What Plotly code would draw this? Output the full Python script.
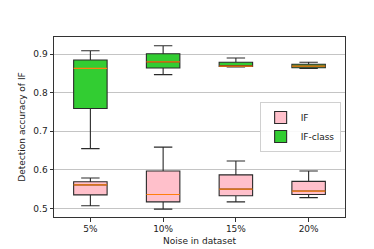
import plotly.graph_objects as go

categories = ["5%", "10%", "15%", "20%"]
positions = [1, 2, 3, 4]

# IF series (box statistics)
if_low = [0.507, 0.498, 0.517, 0.528]
if_q1 = [0.535, 0.517, 0.533, 0.536]
if_med = [0.561, 0.536, 0.550, 0.545]
if_q3 = [0.569, 0.597, 0.587, 0.570]
if_high = [0.579, 0.659, 0.623, 0.597]

# IF-class series (box statistics)
ifc_low = [0.655, 0.847, 0.867, 0.863]
ifc_q1 = [0.759, 0.864, 0.868, 0.865]
ifc_med = [0.863, 0.880, 0.869, 0.869]
ifc_q3 = [0.885, 0.901, 0.879, 0.874]
ifc_high = [0.909, 0.922, 0.890, 0.879]

y_ticks = [0.5, 0.6, 0.7, 0.8, 0.9]

BOX_W = 0.46
FONT = "DejaVu Sans"

fig = go.Figure()

def add_box(name, color, low, q1, med, q3, high):
    fig.add_trace(go.Box(
        name=name,
        x=positions,
        lowerfence=low, q1=q1, median=med, q3=q3, upperfence=high,
        fillcolor=color,
        line=dict(color="#2a2a2a", width=1.1),
        whiskerwidth=0.55,
        width=BOX_W,
        boxpoints=False,
        hoverinfo="skip",
    ))

add_box("IF", "pink", if_low, if_q1, if_med, if_q3, if_high)
add_box("IF-class", "#32cd32", ifc_low, ifc_q1, ifc_med, ifc_q3, ifc_high)

# orange median lines (matplotlib style)
for meds in (if_med, ifc_med):
    for p, m in zip(positions, meds):
        fig.add_shape(type="line", xref="x", yref="y",
                      x0=p - BOX_W / 2, x1=p + BOX_W / 2, y0=m, y1=m,
                      line=dict(color="#ff7f0e", width=1.2), layer="above")

fig.update_layout(
    width=374, height=249,
    margin=dict(l=46, r=37, t=29, b=31),
    paper_bgcolor="white", plot_bgcolor="white",
    boxmode="overlay",
    font=dict(family=FONT, size=9, color="#222"),
    showlegend=True,
    legend=dict(
        x=0.985, y=0.50, xanchor="right", yanchor="middle",
        bgcolor="rgba(255,255,255,0.9)", bordercolor="#d0d0d0", borderwidth=1,
        font=dict(size=9), itemwidth=30, tracegroupgap=0,
    ),
    xaxis=dict(
        range=[0.5, 4.5],
        tickmode="array", tickvals=positions, ticktext=categories,
        showline=True, mirror=True, linecolor="#333", linewidth=1,
        ticks="outside", ticklen=3.5, tickcolor="#333",
        showgrid=False, zeroline=False,
        title=dict(text="Noise in dataset", font=dict(size=9), standoff=4),
    ),
    yaxis=dict(
        range=[0.4777, 0.9446],
        tickmode="array", tickvals=y_ticks, ticktext=[f"{v:.1f}" for v in y_ticks],
        showline=True, mirror=True, linecolor="#333", linewidth=1,
        ticks="outside", ticklen=3.5, tickcolor="#333",
        showgrid=True, gridcolor="#c4c4c4", gridwidth=1,
        zeroline=False,
        title=dict(text="Detection accuracy of IF", font=dict(size=9), standoff=6),
    ),
)

fig.write_html("out.html")
